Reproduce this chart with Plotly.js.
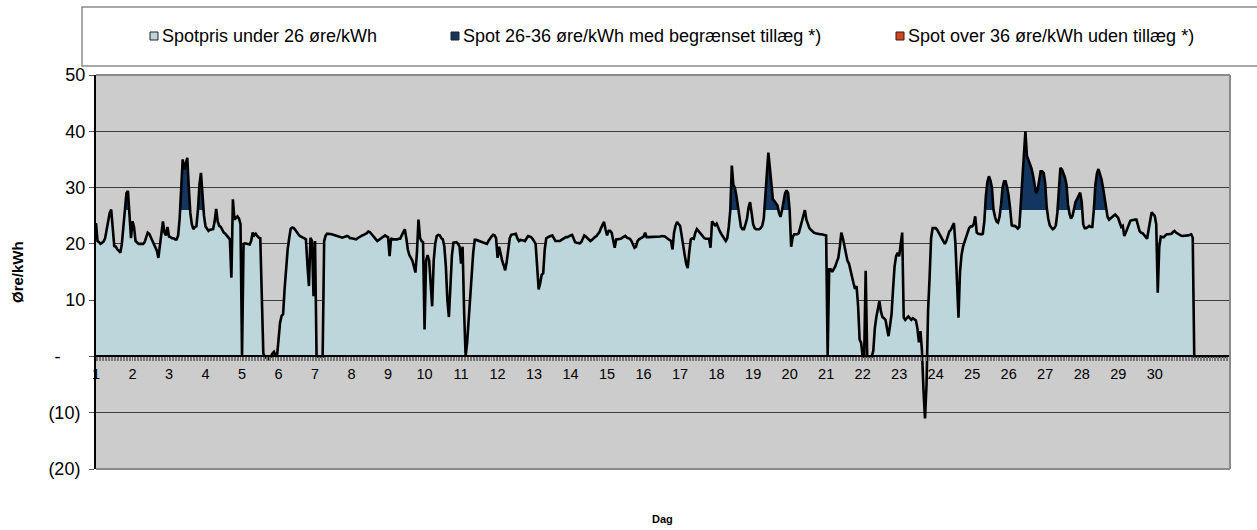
<!DOCTYPE html>
<html><head><meta charset="utf-8">
<script src="https://cdn.plot.ly/plotly-3.0.1.min.js"></script>
<style>html,body{margin:0;padding:0;background:#fff}#chart{width:1257px;height:530px}</style>
</head><body><div id="chart"></div>
<script>
// Hourly spot price (øre/kWh), one array per day, 24 hours each
const d01 = [23.7,20.5,20.3,20.0,20.2,20.4,21.0,22.5,24.5,25.5,26.1,22.0,19.6,19.5,19.0,18.8,18.4,20.0,23.5,27.0,29.0,29.4,26.0,21.0];
const d02 = [24.0,23.0,20.5,20.2,20.0,20.0,20.0,20.0,20.3,21.0,22.0,21.8,21.2,20.5,20.0,19.5,18.8,17.5,19.5,22.0,24.0,22.0,21.5,23.0];
const d03 = [21.3,21.2,21.0,21.0,20.8,20.8,21.5,24.5,30.0,35.0,33.2,34.5,35.3,30.0,25.5,23.5,22.6,23.0,23.1,26.0,30.5,32.6,28.5,25.0];
const d04 = [23.1,22.8,22.3,22.5,22.6,22.6,24.0,26.2,24.0,23.2,23.0,22.5,22.0,21.8,21.4,21.0,20.8,14.0,27.9,24.3,24.6,24.9,24.5,23.5];
const d05 = [0,20.0,20.1,20.0,20.0,19.9,20.5,22.0,21.5,21.8,21.4,21.1,21.0,10.0,0.5,0,-0.3,-0.5,-0.3,0,0.5,0.8,0.2,0];
const d06 = [3.0,6.0,7.2,7.5,12.0,16.0,19.0,21.0,22.7,22.9,22.8,22.5,22.0,21.7,21.4,21.2,21.1,21.0,20.8,16.2,12.5,21.1,20.5,10.7];
const d07 = [20.5,0,0,0,0,0,20.5,21.5,21.8,21.8,21.8,21.7,21.6,21.5,21.4,21.3,21.2,21.2,21.1,21.2,21.3,21.4,21.3,21.0];
const d08 = [21.0,20.9,20.8,20.8,21.0,21.2,21.4,21.5,21.6,21.7,21.9,22.2,22.1,21.8,21.4,21.0,20.8,20.5,20.7,20.9,21.2,21.4,21.5,21.3];
const d09 = [21.2,17.8,21.0,20.8,20.8,20.7,20.8,20.9,20.9,21.5,22.0,22.6,21.0,19.0,18.0,17.5,17.0,16.0,14.9,18.5,24.3,21.1,20.5,20.3];
const d10 = [4.8,17.0,18.0,17.0,12.0,8.9,17.0,20.0,21.4,21.6,21.5,21.0,20.8,19.5,16.0,10.0,7.0,13.0,18.0,20.2,20.3,20.3,20.0,19.5];
const d11 = [16.5,19.5,8.0,0.0,2.5,6.0,10.0,14.5,18.5,20.7,20.7,20.6,20.5,20.4,20.3,20.2,20.1,20.0,20.5,21.0,21.3,21.6,21.5,21.0];
const d12 = [17.5,19.5,18.0,17.0,16.2,15.3,16.8,19.0,21.0,21.6,21.7,21.8,21.8,21.0,20.5,20.7,20.7,20.6,20.5,20.9,21.4,21.3,21.2,20.9];
const d13 = [20.5,20.0,16.0,11.9,13.0,14.5,14.8,19.0,21.0,21.2,21.3,21.4,21.5,21.0,20.5,20.5,20.5,20.5,20.7,20.9,21.1,21.2,21.2,21.4];
const d14 = [21.5,21.6,21.0,20.3,20.2,20.1,20.1,20.3,21.0,21.5,21.3,21.0,20.7,20.5,20.7,21.0,21.2,21.4,21.7,22.1,22.8,23.3,23.9,22.5];
const d15 = [21.5,22.3,22.3,22.0,20.8,19.3,20.8,20.8,20.8,20.9,21.1,21.2,21.4,21.1,21.0,20.9,20.5,20.0,19.3,19.5,20.5,20.8,21.0,21.2];
const d16 = [21.3,22.0,21.2,21.2,21.2,21.2,21.2,21.2,21.2,21.2,21.2,21.3,21.4,21.4,21.3,21.1,20.9,20.7,20.5,19.0,22.0,23.2,23.9,23.5];
const d17 = [23.2,21.5,19.5,18.0,16.5,15.7,18.5,20.8,21.0,20.9,22.0,22.6,22.3,22.0,21.7,21.3,21.0,20.9,20.9,20.9,19.3,24.0,23.6,23.3];
const d18 = [23.6,22.8,22.3,21.8,21.4,20.9,20.5,21.0,23.0,26.0,33.9,30.5,30.0,28.5,26.5,24.5,23.0,22.6,22.6,23.5,24.5,26.5,27.4,25.5];
const d19 = [23.5,22.8,22.6,22.6,22.6,22.8,23.2,24.5,28.0,33.0,36.2,33.5,31.0,27.9,27.6,27.3,26.8,25.5,24.8,26.0,27.9,29.0,29.5,29.0];
const d20 = [26.0,19.5,21.2,21.7,21.7,21.7,21.9,23.0,24.2,25.3,26.0,24.3,23.3,22.8,22.5,22.2,22.0,21.9,21.8,21.8,21.7,21.7,21.6,21.6];
const d21 = [21.5,0,15.5,15.5,15.0,15.5,16.0,16.8,17.5,19.5,22.0,21.0,19.5,18.0,17.0,16.5,15.2,14.5,13.0,12.0,12.5,9.0,3.0,2.4];
const d22 = [0,0,15.2,0,0,0,0,1.0,5.0,7.0,8.5,9.8,8.0,7.0,6.8,6.5,5.0,3.6,5.5,7.5,12.0,16.0,17.8,18.4];
const d23 = [17.8,19.5,22.0,6.9,6.5,6.8,7.1,6.8,6.5,6.8,6.6,6.4,5.0,2.5,4.5,1.0,-6.0,-11.0,-5.0,8.0,14.0,21.0,22.8,22.8];
const d24 = [22.8,22.5,22.0,21.4,21.0,20.5,20.0,20.5,21.6,22.2,22.5,23.0,23.7,20.0,12.0,6.9,15.0,18.0,19.5,20.5,21.5,22.0,22.8,23.1];
const d25 = [23.1,23.5,24.9,22.0,21.8,21.7,21.7,21.8,24.0,28.5,31.0,32.0,31.3,30.0,26.1,24.8,24.0,23.8,24.8,27.0,30.0,31.1,31.1,30.0];
const d26 = [28.5,26.1,23.3,23.2,23.2,23.0,22.7,23.0,27.0,32.0,35.5,40.0,35.6,34.8,34.3,33.4,32.2,30.3,29.0,29.5,31.5,32.9,32.9,32.6];
const d27 = [30.8,26.5,24.5,23.3,22.9,22.6,22.8,23.3,25.5,29.5,33.5,33.2,32.6,31.8,30.5,27.0,25.3,24.5,25.0,26.5,27.5,28.0,28.5,29.1];
const d28 = [27.5,23.5,22.8,22.8,23.0,23.2,23.0,23.0,26.1,30.5,32.5,33.3,32.4,31.5,30.0,28.0,26.0,24.8,24.3,24.6,24.9,25.0,25.2,24.9];
const d29 = [24.6,23.8,23.0,23.2,21.4,22.0,22.6,23.4,24.1,24.2,24.3,24.3,24.3,23.3,22.3,22.0,21.9,21.6,21.2,20.9,22.5,24.5,25.6,25.3];
const d30 = [25.0,23.5,11.3,19.5,21.3,21.2,21.2,21.5,21.7,21.7,21.7,21.8,22.1,22.3,22.0,21.8,21.6,21.5,21.4,21.4,21.4,21.4,21.5,21.6];
const d31 = [21.7,21.1,0,0,0,0,0,0,0,0,0,0,0,0,0,0,0,0,0,0,0,0,0,0];

const dayLabels = ['1','2','3','4','5','6','7','8','9','10','11','12','13','14','15','16','17','18','19','20','21','22','23','24','25','26','27','28','29','30'];
const yTickVals = [-20,-10,0,10,20,30,40,50];
const yTickText = ['(20)\u00a0','(10)\u00a0','-\u00a0\u00a0\u00a0\u00a0\u00a0','10','20','30','40','50'];
const seriesNames = ['Spotpris under 26 øre/kWh','Spot 26-36 øre/kWh med begrænset tillæg *)','Spot over 36 øre/kWh uden tillæg *)'];
const seriesColors = ['#BDD6DB','#12365F','#D9441C'];
const bandLimits = [26, 36];

const price = [].concat(d01,d02,d03,d04,d05,d06,d07,d08,d09,d10,d11,d12,d13,d14,d15,d16,d17,d18,d19,d20,d21,d22,d23,d24,d25,d26,d27,d28,d29,d30,d31);
const hours = price.map((_, i) => i);
const dayTickVals = dayLabels.map((_, i) => i * 24);
const lowPart = price.map(p => Math.max(0, Math.min(p, bandLimits[0])));
const midPart = price.map(p => Math.max(0, Math.min(p - bandLimits[0], bandLimits[1] - bandLimits[0])));
const highPart = price.map(p => Math.max(0, p - bandLimits[1]));

const W = 1257, H = 530, L = 96, R = 1230, T = 75, B = 469;
const px = x => (x - L) / (R - L);
const py = y => (B - y) / (B - T);

const traces = [
  {x: hours, y: lowPart, stackgroup: 'a', mode: 'lines', line: {width: 0}, fillcolor: seriesColors[0], name: seriesNames[0], hoverinfo: 'skip'},
  {x: hours, y: midPart, stackgroup: 'a', mode: 'lines', line: {width: 0}, fillcolor: seriesColors[1], name: seriesNames[1], hoverinfo: 'skip'},
  {x: hours, y: highPart, stackgroup: 'a', mode: 'lines', line: {width: 0}, fillcolor: seriesColors[2], name: seriesNames[2], hoverinfo: 'skip'},
  {x: hours, y: price, mode: 'lines', line: {color: '#000', width: 2.6}, name: 'Spotpris', hoverinfo: 'skip'}
];

const legendItems = [{sq: 150, tx: 160}, {sq: 451, tx: 461}, {sq: 896, tx: 906}];
const legendY = 36;
const shapes = [
  {type: 'rect', xref: 'paper', yref: 'paper', x0: px(82), x1: px(1262), y0: py(66), y1: py(7), line: {color: '#8a8a8a', width: 1.5}, fillcolor: '#fff', layer: 'above'},
  {type: 'line', xref: 'paper', yref: 'paper', x0: 0, x1: 1, y0: 1, y1: 1, line: {color: '#8a8a8a', width: 2}},
  {type: 'line', xref: 'paper', yref: 'paper', x0: 1, x1: 1, y0: 0, y1: 1, line: {color: '#8a8a8a', width: 2}},
  {type: 'line', xref: 'paper', yref: 'paper', x0: 0, x1: 1, y0: 0, y1: 0, line: {color: '#8a8a8a', width: 2}}
];
const annotations = [];
legendItems.forEach((it, i) => {
  shapes.push({type: 'rect', xref: 'paper', yref: 'paper', x0: px(it.sq), x1: px(it.sq + 8), y0: py(legendY + 4), y1: py(legendY - 4), line: {color: '#222', width: 1}, fillcolor: seriesColors[i], layer: 'above'});
  annotations.push({xref: 'paper', yref: 'paper', x: px(it.tx), y: py(legendY), xanchor: 'left', yanchor: 'middle', text: seriesNames[i], showarrow: false, font: {family: 'Liberation Sans, Arial', size: 18, color: '#000'}});
});
annotations.push({xref: 'paper', yref: 'paper', x: px(17), y: 0.5, text: '<b>Øre/kWh</b>', textangle: -90, showarrow: false, xanchor: 'center', yanchor: 'middle', font: {family: 'Liberation Sans, Arial', size: 15, color: '#000'}});
annotations.push({xref: 'paper', yref: 'paper', x: px(662), y: py(519), text: '<b>Dag</b>', showarrow: false, xanchor: 'center', yanchor: 'middle', font: {family: 'Liberation Sans, Arial', size: 11, color: '#000'}});

const layout = {
  width: W, height: H,
  margin: {l: L, r: W - R, t: T, b: H - B, pad: 0},
  paper_bgcolor: '#fff', plot_bgcolor: '#CCCCCC',
  showlegend: false,
  font: {family: 'Liberation Sans, Arial', color: '#000'},
  xaxis: {
    range: [0, 745.5], anchor: 'free', position: 20 / 70,
    tickmode: 'array', tickvals: dayTickVals, ticktext: dayLabels,
    ticks: 'outside', ticklen: 4, tickcolor: '#666', tickwidth: 1,
    minor: {tickmode: 'linear', tick0: 0, dtick: 1, ticks: 'outside', ticklen: 4, tickcolor: '#777', tickwidth: 1, showgrid: false},
    showgrid: false, zeroline: false, showline: true, linecolor: '#000', linewidth: 2,
    tickfont: {size: 14.5, color: '#000'}, fixedrange: true
  },
  yaxis: {
    range: [-20, 50], tickmode: 'array', tickvals: yTickVals, ticktext: yTickText,
    ticks: 'outside', ticklen: 5, tickcolor: '#555', tickwidth: 1,
    showgrid: true, gridcolor: '#3c3c3c', gridwidth: 1, zeroline: false,
    showline: true, linecolor: '#000', linewidth: 2,
    tickfont: {size: 18, color: '#000'}, ticklabelstandoff: 0, fixedrange: true
  },
  shapes: shapes,
  annotations: annotations
};

Plotly.newPlot('chart', traces, layout, {staticPlot: true, displayModeBar: false});
</script>
</body></html>
